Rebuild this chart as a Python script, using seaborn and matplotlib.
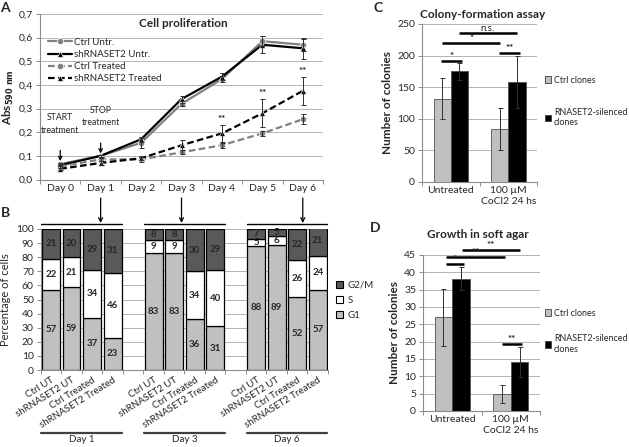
import numpy as np
import pandas as pd
import matplotlib
matplotlib.use("Agg")
import matplotlib.pyplot as plt
import matplotlib.transforms as mtransforms
from matplotlib.patches import Patch
from matplotlib.ticker import FuncFormatter, MultipleLocator, FixedLocator
import seaborn as sns

sns.set_theme(style="white")
plt.rcParams['font.family'] = ['Lato', 'DejaVu Sans']
plt.rcParams['font.size'] = 7

GRID = '#b4b4b4'
SPINE = '#8c8c8c'

# ---------------- data ----------------
# A. Cell proliferation (Abs 590 nm)
days = ["Day 0", "Day 1", "Day 2", "Day 3", "Day 4", "Day 5", "Day 6"]
ctrl_untr = [0.065, 0.100, 0.155, 0.320, 0.425, 0.585, 0.570]
ctrl_untr_err = [0.005, 0.005, 0.020, 0.010, 0.012, 0.020, 0.025]
sh_untr = [0.060, 0.100, 0.170, 0.340, 0.435, 0.570, 0.555]
sh_untr_err = [0.005, 0.005, 0.010, 0.015, 0.015, 0.035, 0.045]
ctrl_treat = [0.055, 0.085, 0.085, 0.115, 0.145, 0.195, 0.255]
ctrl_treat_err = [0.005, 0.005, 0.010, 0.008, 0.010, 0.010, 0.022]
sh_treat = [0.045, 0.070, 0.090, 0.145, 0.195, 0.280, 0.375]
sh_treat_err = [0.005, 0.008, 0.008, 0.020, 0.035, 0.060, 0.060]
stars_days = [4, 5, 6]

# B. Cell cycle phases (%)
samples = ["Ctrl UT", "shRNASET2 UT", "Ctrl Treated", "shRNASET2 Treated"]
b_days = ["Day 1", "Day 3", "Day 6"]
g1 = [57, 59, 37, 23, 83, 83, 36, 31, 88, 89, 52, 57]
s_phase = [22, 21, 34, 46, 9, 9, 34, 40, 5, 6, 26, 24]
g2m = [21, 20, 29, 31, 8, 8, 30, 29, 7, 5, 22, 21]

# C. Colony formation
conditions = ["Untreated", "100 µM\nCoCl2 24 hs"]
clones = ["Ctrl clones", "RNASET2-silenced\nclones"]
colony_ctrl = [132, 84]
colony_ctrl_err = [32, 33]
colony_sh = [175, 158]
colony_sh_err = [14, 41]

# D. Soft agar
agar_ctrl = [27.0, 4.8]
agar_ctrl_err = [8.3, 2.6]
agar_sh = [38.2, 14.2]
agar_sh_err = [3.2, 4.4]

fig = plt.figure(figsize=(6.29, 4.47), dpi=100)
W, H = 629, 447


def px_axes(x0, y0, x1, y1):
    return fig.add_axes([x0 / W, 1 - y1 / H, (x1 - x0) / W, (y1 - y0) / H])


def fpos(x, y):
    return (x / W, 1 - y / H)


def excel_style(ax):
    for side in ['top', 'right']:
        ax.spines[side].set_visible(False)
    for side in ['left', 'bottom']:
        ax.spines[side].set_color(SPINE)
        ax.spines[side].set_linewidth(0.8)
    ax.yaxis.grid(True, color=GRID, lw=0.7)
    ax.set_axisbelow(True)
    ax.tick_params(axis='y', which='major', length=3, width=0.7, color=SPINE,
                   labelsize=7.5, pad=2, left=True)
    ax.tick_params(axis='x', which='major', length=0, labelsize=7.5, pad=3)
    ax.tick_params(axis='x', which='minor', length=3, width=0.7, color=SPINE,
                   bottom=True)


# ---------------- A ----------------
axA = px_axes(40, 14, 323, 179.5)
series = {
    "Ctrl Untr.": (ctrl_untr, ctrl_untr_err),
    "shRNASET2 Untr.": (sh_untr, sh_untr_err),
    "Ctrl Treated": (ctrl_treat, ctrl_treat_err),
    "shRNASET2 Treated": (sh_treat, sh_treat_err),
}
rows = []
for name, (vals, errs) in series.items():
    for i, v in enumerate(vals):
        rows.append({"day": i, "value": v, "series": name})
df_a = pd.DataFrame(rows)
pal = {"Ctrl Untr.": '#808080', "shRNASET2 Untr.": 'black',
       "Ctrl Treated": '#808080', "shRNASET2 Treated": 'black'}
dash = {"Ctrl Untr.": '', "shRNASET2 Untr.": '',
        "Ctrl Treated": (3, 1.5), "shRNASET2 Treated": (3, 1.5)}
mk = {"Ctrl Untr.": 'o', "shRNASET2 Untr.": '^',
      "Ctrl Treated": 'o', "shRNASET2 Treated": '^'}
sns.lineplot(data=df_a, x="day", y="value", hue="series", style="series",
             palette=pal, dashes=dash, markers=mk, markersize=4.5,
             markeredgewidth=0.5, linewidth=1.6, ax=axA)
for name, (vals, errs) in series.items():
    axA.errorbar(range(len(days)), vals, yerr=errs, fmt='none',
                 ecolor='#303030', elinewidth=0.7, capsize=1.8, capthick=0.7)
for d in stars_days:
    axA.text(d, sh_treat[d] + sh_treat_err[d] + 0.004, "**", ha='center',
             va='bottom', fontsize=7, fontweight='bold')
h, l = axA.get_legend_handles_labels()
axA.legend(h, l, loc='upper left', bbox_to_anchor=fpos(44, 34),
           bbox_transform=fig.transFigure, frameon=False, fontsize=7,
           handlelength=2.5, labelspacing=0.32, handletextpad=0.15,
           borderaxespad=0.0)
axA.set_xlim(-0.5, 6.5)
axA.set_ylim(0, 0.7)
axA.set_xticks(range(len(days)))
axA.set_xticklabels(days)
axA.xaxis.set_minor_locator(FixedLocator(np.arange(-0.5, 7, 1)))
axA.yaxis.set_major_locator(MultipleLocator(0.1))
axA.yaxis.set_major_formatter(FuncFormatter(lambda v, p: f"{v:.1f}".replace('.', ',')))
excel_style(axA)
axA.set_xlabel("")
axA.set_ylabel(r"Abs$_{\mathbf{590\ nm}}$", fontsize=8.5, fontweight='bold', labelpad=2)
axA.text(0.505, 0.945, "Cell proliferation", transform=axA.transAxes, ha='center',
         va='center', fontsize=8.5, fontweight='bold')
axA.annotate("START\ntreatment", xy=(0, 0.078), xytext=(0, 0.235), ha='center',
             va='center', fontsize=6.3, linespacing=1.5,
             arrowprops=dict(arrowstyle='->', color='black', lw=0.9,
                             shrinkA=9, shrinkB=0))
axA.annotate("STOP\ntreatment", xy=(1, 0.11), xytext=(1, 0.266), ha='center',
             va='center', fontsize=6.3, linespacing=1.5,
             arrowprops=dict(arrowstyle='->', color='black', lw=0.9,
                             shrinkA=9, shrinkB=0))

# ---------------- B ----------------
axB = px_axes(40.8, 229, 328, 370)
pos = [0, 1, 2, 3, 5, 6, 7, 8, 10, 11, 12, 13]
bw = 0.87
axB.bar(pos, g1, width=bw, color='#c0c0c0', edgecolor='black', lw=0.9, label='G1')
axB.bar(pos, s_phase, width=bw, bottom=g1, color='white', edgecolor='black',
        lw=0.9, label='S')
base2 = [a + b for a, b in zip(g1, s_phase)]
axB.bar(pos, g2m, width=bw, bottom=base2, color='#595959', edgecolor='black',
        lw=0.9, label='G2/M')
for x, a, b, c in zip(pos, g1, s_phase, g2m):
    axB.text(x, a / 2, str(a), ha='center', va='center', fontsize=7, fontweight='bold')
    axB.text(x, a + b / 2, str(b), ha='center', va='center', fontsize=7, fontweight='bold')
    axB.text(x, a + b + c / 2, str(c), ha='center', va='center', fontsize=7,
             fontweight='bold')
axB.set_xlim(-0.5, 13.5)
axB.set_ylim(0, 100)
axB.yaxis.set_major_locator(MultipleLocator(10))
axB.set_xticks(pos)
axB.set_xticklabels(samples * 3, rotation=32, ha='right', rotation_mode='anchor')
axB.xaxis.set_minor_locator(FixedLocator(np.arange(-0.5, 14, 1)))
excel_style(axB)
axB.tick_params(axis='x', which='major', labelsize=7, pad=4)
axB.set_ylabel("Percentage of cells", fontsize=8, labelpad=4)
hb = [Patch(facecolor='#595959', edgecolor='black', lw=0.8),
      Patch(facecolor='white', edgecolor='black', lw=0.8),
      Patch(facecolor='#c0c0c0', edgecolor='black', lw=0.8)]
axB.legend(hb, ['G2/M', 'S', 'G1'], loc='upper left', bbox_to_anchor=fpos(332, 277),
           bbox_transform=fig.transFigure, frameon=False, fontsize=7,
           handlelength=0.7, handleheight=0.7, labelspacing=0.6,
           handletextpad=0.5, borderaxespad=0.0)

tB = axB.get_xaxis_transform()
arrow_tr = mtransforms.blended_transform_factory(axA.transData, fig.transFigure)
for gi, (lab, d) in enumerate(zip(b_days, [1, 3, 6])):
    start, end = pos[gi * 4] - 0.47, pos[gi * 4 + 3] + 0.47
    axB.plot([start, end], [1.035, 1.035], transform=tB, color='black', lw=1.0,
             clip_on=False)
    axB.plot([start, end], [-0.45, -0.45], transform=tB, color='#404040', lw=1.6,
             clip_on=False)
    axB.text((start + end) / 2, -0.495, lab, transform=tB, ha='center',
             va='center', fontsize=7)
    axA.annotate("", xy=(d, 1 - 223 / H), xycoords=arrow_tr,
                 xytext=(d, 1 - 198 / H), textcoords=arrow_tr,
                 arrowprops=dict(arrowstyle='->', color='black', lw=0.9,
                                 shrinkA=0, shrinkB=0), annotation_clip=False)


# ---------------- C & D ----------------
def colony_panel(ax, ctrl, ctrl_err, sh, sh_err):
    df = pd.DataFrame({
        "cond": conditions * 2,
        "clone": [clones[0]] * 2 + [clones[1]] * 2,
        "value": ctrl + sh,
    })
    sns.barplot(data=df, x="cond", y="value", hue="clone",
                palette={clones[0]: '#bfbfbf', clones[1]: 'black'},
                width=0.6, edgecolor='#505050', linewidth=0.6, errorbar=None,
                ax=ax)
    for cont, errs in zip(ax.containers, [ctrl_err, sh_err]):
        xs = [b.get_x() + b.get_width() / 2 for b in cont]
        ys = [b.get_height() for b in cont]
        ax.errorbar(xs, ys, yerr=errs, fmt='none', ecolor='#303030',
                    elinewidth=0.7, capsize=1.8, capthick=0.7)
    hc, lc = ax.get_legend_handles_labels()
    for p in hc:
        p.set_edgecolor('#404040')
        p.set_linewidth(0.6)
    ax.set_xlim(-0.5, 1.5)
    ax.xaxis.set_minor_locator(FixedLocator([-0.5, 0.5, 1.5]))
    excel_style(ax)
    ax.set_xlabel("")
    ax.set_ylabel("Number of colonies", fontsize=8.5, fontweight='bold', labelpad=3)
    return hc, lc


def bracket(ax, x0, x1, y, txt):
    ax.plot([x0, x1], [y, y], color='black', lw=1.8, clip_on=False,
            solid_capstyle='butt')
    ax.text((x0 + x1) / 2, y, txt, ha='center', va='bottom', fontsize=7,
            fontweight='bold' if '*' in txt else 'normal')


axC = px_axes(422, 24, 537, 182)
hc, lc = colony_panel(axC, colony_ctrl, colony_ctrl_err, colony_sh, colony_sh_err)
axC.set_ylim(0, 250)
axC.yaxis.set_major_locator(MultipleLocator(50))
axC.legend(hc, lc, loc='upper left', bbox_to_anchor=fpos(541, 72),
           bbox_transform=fig.transFigure, frameon=False, fontsize=6.4,
           handlelength=0.75, handleheight=0.75, labelspacing=2.6,
           handletextpad=0.3, borderaxespad=0.0)
axC.text(0.53, 1.06, "Colony-formation assay", transform=axC.transAxes,
         ha='center', va='center', fontsize=8.5, fontweight='bold')
bracket(axC, -0.17, 0.2, 192, "*")
bracket(axC, -0.15, 0.86, 220, "*")
bracket(axC, 0.14, 1.15, 236, "n.s.")
bracket(axC, 0.84, 1.2, 204, "**")

axD = px_axes(423, 255, 540, 411)
hd, ld = colony_panel(axD, agar_ctrl, agar_ctrl_err, agar_sh, agar_sh_err)
axD.set_ylim(0, 45)
axD.yaxis.set_major_locator(MultipleLocator(5))
axD.legend(hd, ld, loc='upper left', bbox_to_anchor=fpos(541, 305),
           bbox_transform=fig.transFigure, frameon=False, fontsize=6.4,
           handlelength=0.75, handleheight=0.75, labelspacing=1.9,
           handletextpad=0.3, borderaxespad=0.0)
axD.text(0.47, 1.13, "Growth in soft agar", transform=axD.transAxes,
         ha='center', va='center', fontsize=8.5, fontweight='bold')
bracket(axD, -0.11, 0.2, 42.4, "*")
bracket(axD, -0.11, 0.9, 44.4, "**")
bracket(axD, 0.17, 1.16, 46.4, "**")
bracket(axD, 0.85, 1.19, 19.3, "**")

# panel letters
for lab, x, y in [("A", 5, 8), ("B", 5, 213), ("C", 378, 8), ("D", 375, 228)]:
    fig.text(x / W, 1 - y / H, lab, fontsize=10, fontweight='bold',
             ha='center', va='center')

fig.savefig("out.png", dpi=100)
